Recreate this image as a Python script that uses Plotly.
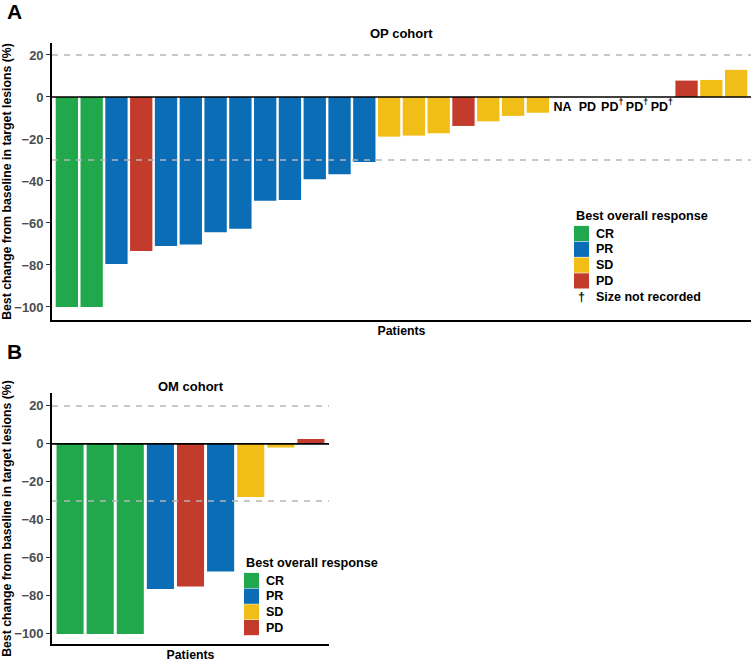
import plotly.graph_objects as go

# ---------------- data ----------------
op_values = [-100, -100, -79.5, -73.3, -71.0, -70.2, -64.4, -62.7, -49.4, -49.0,
             -39.2, -36.8, -31.0, -18.9, -18.4, -17.3, -13.8, -11.6, -9.0, -7.5,
             None, None, None, None, None, 7.8, 8.1, 12.9]
op_response = ["CR", "CR", "PR", "PD", "PR", "PR", "PR", "PR", "PR", "PR",
               "PR", "PR", "PR", "SD", "SD", "SD", "PD", "SD", "SD", "SD",
               "NA", "PD", "PD", "PD", "PD", "PD", "SD", "SD"]
op_missing_labels = ["NA", "PD", "PD<sup>†</sup>", "PD<sup>†</sup>", "PD<sup>†</sup>"]

om_values = [-100, -100, -100, -76.3, -75.1, -67.2, -28.0, -1.9, 2.6]
om_response = ["CR", "CR", "CR", "PR", "PD", "PR", "SD", "SD", "PD"]

categories = ["CR", "PR", "SD", "PD"]
colors = {"CR": "#21a84c", "PR": "#0a6db5", "SD": "#f0be16", "PD": "#c23b2b"}

ref_lines = [20, -30]
y_ticks = [20, 0, -20, -40, -60, -80, -100]

FONT = "Liberation Sans, Arial, sans-serif"
W, H = 753, 665

fig = go.Figure()


def add_bars(values, responses, xa, ya):
    for cat in categories:
        xs = [i + 1 for i, (v, r) in enumerate(zip(values, responses)) if r == cat and v is not None]
        ys = [v for v, r in zip(values, responses) if r == cat and v is not None]
        if xs:
            fig.add_trace(go.Bar(x=xs, y=ys, width=0.9, marker=dict(color=colors[cat], line=dict(width=0)),
                                 name=cat, showlegend=False, xaxis=xa, yaxis=ya))


add_bars(op_values, op_response, "x", "y")
add_bars(om_values, om_response, "x2", "y2")

# text labels for patients without a bar (OP cohort)
miss_x = [i + 1 for i, v in enumerate(op_values) if v is None]
fig.add_trace(go.Scatter(x=miss_x, y=[-5.0] * len(miss_x), mode="text", text=op_missing_labels,
                         textfont=dict(family=FONT, size=12.5, color="black", weight="bold"),
                         showlegend=False, hoverinfo="skip", xaxis="x", yaxis="y"))

# reference lines
for ax_y, ax_x in (("y", "x"), ("y2", "x2")):
    for v in ref_lines:
        fig.add_shape(type="line", xref=f"{ax_x} domain", yref=ax_y, x0=0, x1=1, y0=v, y1=v,
                      line=dict(color="#b5b5b5", width=1.5, dash="6px,6px"), layer="above")
    fig.add_shape(type="line", xref=f"{ax_x} domain", yref=ax_y, x0=0, x1=1, y0=0, y1=0,
                  line=dict(color="black", width=1.6), layer="above")

tickfont = dict(family=FONT, size=13, color="#4d4d4d", weight="bold")
titlefont = dict(family=FONT, size=12.3, color="black", weight="bold")
ytitle = "Best change from baseline in target lesions (%)"

yaxis_common = dict(tickvals=y_ticks, ticks="outside", ticklen=4, tickwidth=1.2, tickcolor="#333333",
                    showline=True, linecolor="black", linewidth=1.6, showgrid=False, zeroline=False,
                    tickfont=tickfont, title=dict(text=ytitle, font=titlefont, standoff=5),
                    automargin=False)
xaxis_common = dict(showticklabels=False, ticks="", showline=True, linecolor="black", linewidth=1.6,
                    showgrid=False, zeroline=False,
                    title=dict(text="Patients", font=titlefont, standoff=6), automargin=False)

fig.update_layout(
    width=W, height=H, margin=dict(l=0, r=0, t=0, b=0),
    paper_bgcolor="white", plot_bgcolor="white", barmode="overlay",
    font=dict(family=FONT),
    xaxis=dict(domain=[52 / W, 751 / W], range=[0.4, 28.6], anchor="y", **xaxis_common),
    yaxis=dict(domain=[1 - 320 / H, 1 - 43 / H], range=[-106.2, 25.7], anchor="x", **yaxis_common),
    xaxis2=dict(domain=[52 / W, 329 / W], range=[0.4, 9.6], anchor="y2", **xaxis_common),
    yaxis2=dict(domain=[1 - 644 / H, 1 - 393 / H], range=[-105.3, 26.8], anchor="x2", **yaxis_common),
)

ann = []


def label(text, xpx, ypx, size, xanchor="center", xref="paper"):
    ann.append(dict(text=text, x=xpx / W if xref == "paper" else xpx, y=1 - ypx / H, xref=xref, yref="paper",
                    xanchor=xanchor, yanchor="middle", showarrow=False,
                    font=dict(family=FONT, size=size, color="black", weight="bold")))


# panel letters
label("A", 14, 12, 21)
label("B", 14, 352, 21)
# cohort titles
label("OP cohort", 0.5, 34, 13, xref="x domain")
label("OM cohort", 0.5, 386, 13, xref="x2 domain")


def legend(x_left, y_title, spacing, extra_dagger):
    label("Best overall response", x_left, y_title, 12.7, xanchor="left")
    for k, cat in enumerate(categories):
        yc = y_title + 17.5 + k * spacing
        fig.add_shape(type="rect", xref="paper", yref="paper", x0=x_left / W, x1=(x_left + 15) / W,
                      y0=1 - (yc - 7.6) / H, y1=1 - (yc + 7.6) / H,
                      fillcolor=colors[cat], line=dict(width=0))
        label(cat, x_left + 19.5, yc, 12.5, xanchor="left")
    if extra_dagger:
        yc = y_title + 17.5 + 4 * spacing
        label("†", x_left + 7.5, yc, 12.5)
        label("Size not recorded", x_left + 19.5, yc, 12.5, xanchor="left")


legend(574, 216, 15.8, True)
legend(244, 563, 15.7, False)

fig.update_layout(annotations=ann)
fig.write_html("out.html", config={"displayModeBar": False},
               post_script="document.body.style.margin='0px';document.body.style.overflow='hidden';")
